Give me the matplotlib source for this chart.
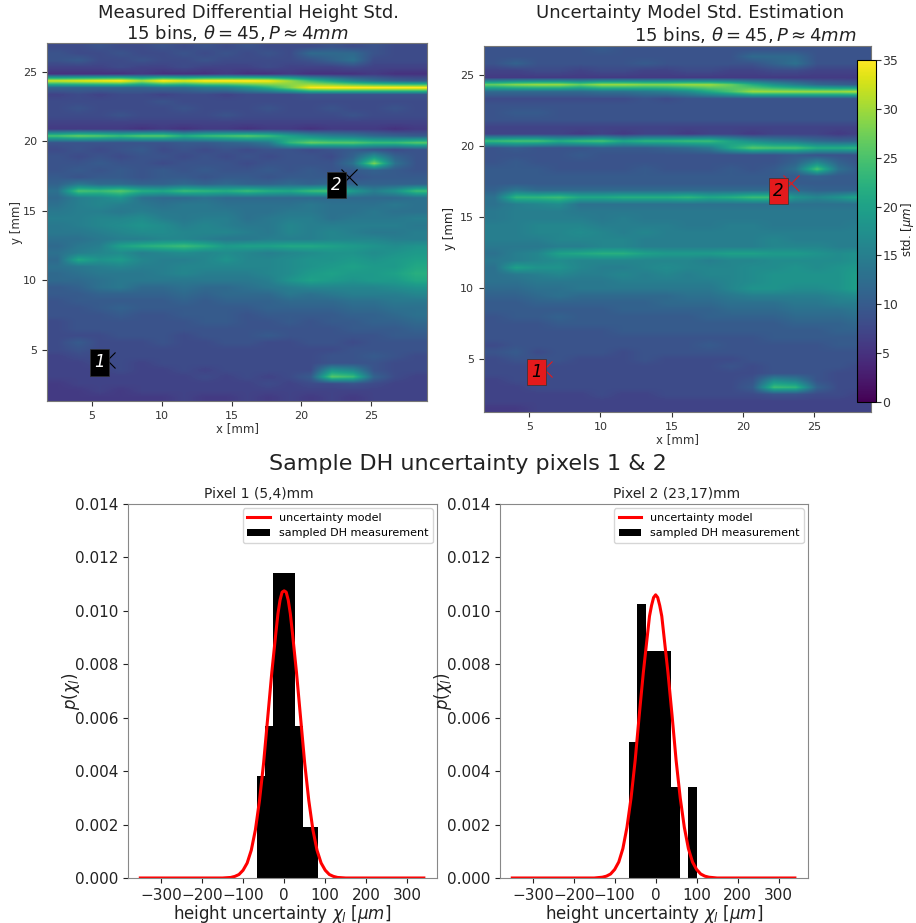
import matplotlib
matplotlib.use('Agg')
import matplotlib.pyplot as plt
import numpy as np

# Std. maps in um on a coarse grid (top row first, y=27 down to y=1.3)
measured_std = [
    [8, 8, 9, 8, 8, 9, 8, 9, 8, 9, 8, 8, 8, 9, 8, 9, 8, 8],
    [9, 8, 8, 9, 8, 8, 9, 8, 9, 8, 9, 8, 12, 12, 12, 9, 8, 8],
    [9, 10, 8, 8, 9, 8, 8, 9, 8, 8, 8, 8, 9, 11, 13, 8, 8, 8],
    [7, 7, 7, 8, 7, 7, 8, 7, 7, 7, 8, 7, 7, 7, 8, 7, 7, 7],
    [5, 5, 5, 5, 6, 5, 5, 5, 6, 5, 5, 6, 5, 5, 5, 6, 5, 5],
    [33, 34, 35, 36, 31, 36, 34, 36, 36, 36, 35, 30, 24, 20, 16, 13, 11, 10],
    [11, 11, 11, 11, 11, 12, 12, 14, 15, 18, 22, 28, 35, 36, 36, 36, 36, 36],
    [7, 8, 7, 8, 8, 7, 8, 8, 7, 8, 8, 8, 9, 9, 9, 9, 9, 9],
    [8, 8, 8, 8, 8, 9, 8, 8, 8, 8, 8, 8, 8, 8, 8, 8, 8, 8],
    [8, 9, 8, 8, 8, 8, 9, 8, 8, 8, 9, 8, 8, 9, 8, 8, 9, 8],
    [8, 8, 8, 9, 8, 8, 8, 8, 9, 8, 8, 8, 8, 8, 9, 8, 8, 8],
    [7, 7, 7, 7, 7, 7, 7, 7, 7, 7, 7, 7, 7, 7, 7, 7, 7, 7],
    [6, 6, 6, 6, 5, 6, 5, 6, 6, 5, 6, 6, 5, 6, 6, 6, 5, 6],
    [25, 27, 26, 24, 26, 26, 22, 24, 25, 26, 24, 20, 17, 15, 14, 12, 11, 10],
    [9, 9, 9, 9, 9, 9, 10, 10, 11, 12, 14, 23, 27, 26, 26, 24, 24, 26],
    [8, 9, 8, 9, 10, 8, 9, 8, 9, 8, 9, 9, 8, 9, 10, 9, 8, 9],
    [9, 8, 9, 8, 9, 9, 8, 9, 8, 9, 8, 9, 9, 8, 11, 18, 11, 9],
    [9, 9, 10, 9, 9, 8, 9, 9, 9, 8, 9, 9, 9, 9, 13, 28, 13, 9],
    [9, 10, 9, 10, 9, 10, 9, 10, 9, 9, 10, 9, 10, 9, 10, 11, 10, 9],
    [10, 9, 10, 10, 9, 10, 10, 9, 10, 10, 9, 10, 10, 10, 9, 10, 10, 10],
    [11, 14, 12, 12, 11, 11, 12, 11, 12, 11, 11, 12, 11, 12, 11, 11, 11, 11],
    [13, 25, 24, 26, 22, 21, 24, 23, 22, 24, 22, 21, 24, 25, 19, 15, 18, 24],
    [12, 15, 16, 18, 13, 12, 12, 13, 12, 12, 12, 12, 12, 12, 12, 12, 12, 13],
    [13, 15, 16, 15, 14, 13, 14, 14, 13, 13, 13, 13, 14, 13, 13, 13, 14, 13],
    [14, 15, 15, 14, 15, 14, 14, 14, 14, 13, 13, 14, 14, 13, 13, 14, 13, 13],
    [15, 15, 16, 16, 17, 15, 14, 15, 15, 13, 14, 15, 15, 13, 14, 14, 14, 15],
    [14, 15, 16, 17, 18, 17, 15, 16, 15, 14, 14, 16, 15, 15, 15, 15, 15, 14],
    [14, 14, 15, 16, 17, 17, 16, 16, 16, 15, 14, 16, 15, 16, 15, 14, 14, 15],
    [13, 13, 14, 15, 15, 16, 16, 15, 14, 14, 15, 15, 15, 16, 16, 16, 15, 15],
    [12, 14, 15, 20, 22, 23, 24, 22, 19, 20, 20, 21, 21, 20, 19, 18, 17, 18],
    [13, 15, 16, 17, 15, 16, 17, 16, 17, 16, 15, 16, 17, 18, 18, 17, 18, 19],
    [12, 21, 18, 19, 16, 15, 15, 16, 18, 16, 16, 17, 18, 18, 19, 18, 19, 20],
    [13, 14, 15, 16, 15, 15, 16, 16, 16, 16, 16, 17, 18, 19, 20, 19, 19, 21],
    [12, 13, 14, 14, 14, 15, 16, 15, 15, 15, 16, 17, 19, 20, 19, 19, 20, 22],
    [12, 12, 13, 14, 14, 14, 14, 14, 14, 14, 15, 18, 20, 19, 18, 19, 19, 21],
    [10, 11, 13, 14, 12, 12, 13, 12, 12, 13, 14, 15, 16, 16, 16, 16, 17, 18],
    [10, 10, 11, 11, 11, 11, 12, 11, 12, 12, 12, 14, 13, 14, 15, 15, 15, 16],
    [9, 10, 10, 10, 10, 10, 11, 10, 11, 11, 11, 12, 12, 12, 13, 13, 14, 14],
    [9, 9, 10, 11, 10, 10, 10, 10, 10, 10, 11, 11, 11, 11, 12, 12, 13, 13],
    [9, 9, 9, 10, 9, 9, 10, 10, 10, 9, 10, 10, 10, 10, 11, 11, 12, 13],
    [8, 9, 9, 9, 9, 9, 9, 10, 10, 9, 9, 10, 9, 10, 10, 11, 11, 12],
    [8, 9, 9, 9, 9, 9, 9, 9, 9, 9, 9, 9, 9, 9, 10, 10, 10, 11],
    [8, 8, 8, 9, 9, 9, 8, 9, 9, 9, 10, 9, 9, 9, 9, 9, 10, 10],
    [8, 10, 8, 8, 8, 9, 8, 8, 9, 9, 8, 8, 9, 9, 8, 9, 9, 9],
    [8, 9, 8, 8, 8, 8, 8, 8, 8, 8, 8, 8, 8, 8, 9, 9, 9, 9],
    [7, 8, 8, 8, 8, 8, 8, 8, 8, 8, 8, 8, 8, 9, 9, 10, 9, 8],
    [7, 7, 8, 8, 7, 8, 8, 8, 8, 8, 8, 8, 8, 9, 9, 9, 8, 8],
    [7, 7, 7, 8, 7, 7, 8, 7, 8, 8, 8, 8, 8, 18, 16, 9, 8, 8],
    [7, 7, 7, 7, 7, 7, 7, 8, 7, 8, 7, 8, 10, 26, 24, 11, 8, 7],
    [6, 7, 7, 7, 7, 7, 7, 7, 7, 7, 8, 7, 8, 8, 9, 8, 7, 7],
    [6, 6, 7, 6, 7, 7, 7, 7, 7, 7, 7, 7, 7, 7, 7, 7, 7, 7],
    [6, 6, 6, 6, 6, 6, 7, 6, 6, 7, 6, 7, 6, 7, 6, 7, 7, 7],
]
model_std = [
    [9, 9, 9, 9, 9, 10, 9, 9, 9, 9, 9, 9, 9, 9, 9, 9, 9, 9],
    [9, 9, 9, 9, 9, 9, 9, 9, 9, 9, 9, 9, 12, 12, 12, 9, 9, 9],
    [9, 11, 9, 9, 9, 9, 9, 10, 9, 9, 9, 9, 9, 11, 13, 9, 9, 9],
    [7, 7, 8, 8, 7, 8, 8, 7, 7, 8, 8, 7, 7, 8, 8, 7, 7, 7],
    [6, 6, 6, 6, 6, 6, 6, 6, 6, 6, 6, 6, 6, 6, 6, 6, 6, 6],
    [27, 29, 30, 30, 27, 30, 30, 29, 29, 30, 30, 27, 22, 18, 15, 12, 11, 10],
    [12, 12, 12, 12, 12, 13, 13, 14, 15, 17, 21, 25, 30, 30, 30, 30, 30, 31],
    [8, 8, 8, 8, 8, 8, 8, 9, 8, 9, 9, 9, 9, 9, 9, 9, 9, 9],
    [9, 9, 9, 9, 9, 9, 9, 9, 9, 9, 9, 9, 9, 9, 9, 9, 9, 9],
    [9, 10, 10, 9, 9, 9, 9, 9, 9, 9, 9, 9, 9, 9, 9, 9, 9, 9],
    [9, 9, 9, 9, 9, 9, 9, 9, 9, 9, 9, 9, 9, 9, 9, 9, 9, 9],
    [7, 7, 7, 7, 7, 7, 7, 7, 7, 7, 7, 7, 7, 7, 7, 7, 7, 7],
    [7, 7, 7, 7, 6, 7, 6, 7, 7, 6, 7, 7, 6, 7, 7, 7, 6, 7],
    [24, 25, 25, 22, 24, 25, 21, 23, 23, 24, 24, 20, 17, 15, 14, 12, 11, 11],
    [9, 10, 9, 9, 9, 10, 10, 10, 11, 12, 14, 21, 26, 25, 25, 22, 22, 23],
    [9, 9, 9, 9, 10, 9, 9, 9, 9, 9, 9, 9, 9, 9, 10, 9, 9, 9],
    [9, 10, 9, 9, 9, 9, 9, 9, 9, 9, 9, 9, 9, 9, 11, 16, 11, 9],
    [10, 10, 10, 9, 9, 9, 9, 10, 9, 9, 9, 10, 9, 10, 13, 25, 13, 10],
    [10, 10, 10, 10, 10, 10, 10, 10, 10, 10, 10, 10, 10, 10, 10, 11, 10, 10],
    [10, 10, 10, 10, 10, 10, 10, 10, 10, 10, 10, 10, 10, 10, 10, 10, 10, 10],
    [11, 14, 12, 12, 12, 12, 12, 12, 12, 12, 12, 12, 12, 12, 12, 11, 11, 11],
    [13, 23, 23, 24, 21, 21, 22, 22, 22, 23, 21, 22, 24, 24, 18, 16, 18, 21],
    [13, 15, 16, 17, 13, 13, 13, 13, 13, 13, 13, 13, 13, 13, 13, 13, 13, 13],
    [14, 15, 15, 15, 14, 14, 14, 14, 14, 14, 14, 14, 14, 14, 14, 14, 14, 14],
    [14, 15, 15, 15, 15, 14, 15, 14, 14, 14, 14, 14, 14, 14, 14, 14, 14, 14],
    [15, 15, 16, 16, 16, 15, 15, 15, 15, 14, 14, 15, 15, 14, 14, 14, 14, 15],
    [15, 15, 16, 16, 17, 16, 15, 16, 15, 15, 15, 15, 15, 15, 15, 15, 15, 15],
    [15, 15, 15, 16, 16, 16, 16, 15, 15, 15, 15, 15, 15, 16, 15, 15, 15, 15],
    [14, 14, 14, 15, 15, 16, 16, 15, 15, 15, 15, 15, 15, 16, 16, 16, 15, 15],
    [13, 15, 16, 20, 21, 22, 22, 20, 19, 19, 19, 20, 20, 19, 19, 18, 17, 18],
    [14, 15, 16, 17, 16, 16, 16, 16, 16, 16, 15, 16, 16, 17, 17, 17, 17, 18],
    [13, 20, 18, 18, 16, 15, 15, 16, 17, 16, 16, 16, 17, 17, 18, 17, 18, 19],
    [13, 14, 15, 16, 15, 15, 16, 15, 16, 15, 16, 16, 17, 18, 18, 18, 18, 20],
    [13, 13, 14, 14, 14, 14, 15, 15, 15, 15, 15, 16, 17, 18, 18, 18, 18, 20],
    [12, 12, 13, 13, 14, 14, 14, 14, 14, 14, 14, 16, 18, 18, 17, 17, 18, 20],
    [11, 11, 12, 13, 12, 12, 12, 12, 12, 13, 13, 14, 15, 15, 15, 15, 16, 17],
    [10, 10, 11, 11, 11, 11, 11, 11, 12, 12, 12, 13, 13, 13, 14, 14, 15, 15],
    [10, 10, 10, 10, 10, 10, 11, 11, 11, 11, 11, 12, 12, 12, 13, 13, 13, 14],
    [9, 10, 10, 11, 10, 10, 10, 10, 10, 10, 11, 11, 11, 11, 12, 12, 12, 13],
    [9, 9, 9, 10, 10, 10, 10, 10, 10, 10, 10, 10, 10, 10, 11, 11, 11, 12],
    [9, 9, 9, 9, 9, 9, 10, 10, 10, 10, 10, 10, 10, 10, 10, 10, 11, 11],
    [9, 9, 9, 9, 9, 9, 9, 9, 9, 9, 9, 9, 9, 10, 10, 10, 10, 10],
    [8, 9, 9, 9, 9, 9, 9, 9, 9, 9, 10, 9, 9, 9, 9, 9, 10, 10],
    [9, 10, 8, 9, 9, 9, 8, 9, 9, 9, 9, 9, 9, 9, 9, 9, 9, 9],
    [8, 9, 9, 9, 8, 8, 8, 9, 8, 8, 8, 8, 9, 9, 9, 9, 9, 9],
    [8, 8, 8, 8, 8, 8, 8, 8, 8, 8, 8, 9, 8, 9, 9, 9, 9, 8],
    [8, 8, 8, 8, 8, 8, 8, 8, 8, 8, 8, 8, 8, 9, 9, 9, 8, 8],
    [7, 8, 8, 8, 8, 8, 8, 8, 8, 8, 8, 8, 9, 17, 15, 9, 8, 8],
    [7, 7, 8, 8, 8, 8, 8, 8, 8, 8, 8, 8, 10, 24, 23, 11, 8, 8],
    [7, 7, 7, 7, 7, 8, 7, 7, 8, 8, 8, 8, 8, 9, 9, 8, 8, 7],
    [7, 7, 7, 7, 7, 7, 7, 7, 7, 7, 7, 7, 7, 7, 7, 7, 7, 7],
    [6, 6, 7, 7, 7, 7, 7, 7, 7, 7, 7, 7, 7, 7, 7, 7, 7, 7],
]

# Histograms of the sampled DH measurement
pixel1_edges = [-65, -46.5, -28, -9.5, 9, 27.5, 46, 64.5, 83]
pixel1_density = [0.0038, 0.0057, 0.0114, 0.0114, 0.0114, 0.0057, 0.0019, 0.0019]
pixel2_edges = [-66, -45, -24, -3, 17.5, 38.5, 59.5, 80, 101]
pixel2_density = [0.0051, 0.01025, 0.0085, 0.0085, 0.0085, 0.0034, 0.0, 0.0034]

# Uncertainty model curves
model_x = [-350, -200, -150, -130, -120, -110, -100, -90, -80, -70, -60, -50, -40, -30, -20, -15, -10, -5, 0,
           5, 10, 15, 20, 30, 40, 50, 60, 70, 80, 90, 100, 110, 120, 130, 150, 200, 340]
pixel1_model = [0, 0, 0, 0.00002, 0.00006, 0.00013, 0.00029, 0.00056, 0.00104, 0.0018, 0.0029, 0.0043, 0.0060,
                0.0077, 0.0092, 0.0099, 0.0104, 0.0107, 0.01075, 0.0107, 0.0104, 0.0099, 0.0092, 0.0077, 0.0060,
                0.0043, 0.0029, 0.0018, 0.00104, 0.00056, 0.00029, 0.00013, 0.00006, 0.00002, 0, 0, 0]
pixel2_model = [0, 0, 0, 0.00003, 0.00007, 0.00015, 0.00032, 0.0006, 0.0011, 0.0019, 0.0030, 0.0044, 0.0061,
                0.0077, 0.0091, 0.0098, 0.0102, 0.0105, 0.0106, 0.0105, 0.0102, 0.0098, 0.0091, 0.0077, 0.0061,
                0.0044, 0.0030, 0.0019, 0.0011, 0.0006, 0.00032, 0.00015, 0.00007, 0.00003, 0, 0, 0]

W, H = 916, 923

def ax_px(left, top, right, bottom):
    # axes position from pixel box of the picture
    return fig.add_axes([left / W, 1 - bottom / H, (right - left) / W, (bottom - top) / H])

def text_px(x, y, s, **kw):
    fig.text(x / W, 1 - y / H, s, ha='center', va='center', color='#222222', **kw)

def plot_map(ax, values, box_color, num_color, mark_color, xlim, ylim):
    img = ax.imshow(values, cmap='viridis', vmin=0, vmax=35, aspect='auto', interpolation='bilinear',
                    extent=[xlim[0], xlim[1], ylim[0], ylim[1]])
    ax.plot([6.05, 23.4], [4.3, 17.4], 'x', color=mark_color, markersize=11, markeredgewidth=0.8)
    for label, x, y in [('1', 5.5, 4.1), ('2', 22.5, 16.85)]:
        ax.text(x, y, label, color=num_color, style='italic', fontsize=12, ha='center', va='center',
                bbox=dict(boxstyle='square,pad=0.25', fc=box_color, ec='#333333', lw=0.5))
    ax.set_xticks([5, 10, 15, 20, 25])
    ax.set_yticks([5, 10, 15, 20, 25])
    ax.tick_params(labelsize=8, colors='#333333')
    ax.set_xlabel('x [mm]', fontsize=8.5, color='#333333', labelpad=1)
    ax.set_ylabel('y [mm]', fontsize=8.5, color='#333333', labelpad=0)
    for s in ax.spines.values():
        s.set_color('#777777')
    return img

def plot_hist(ax, edges, density, curve):
    edges = np.array(edges)
    ax.bar(edges[:-1], density, width=np.diff(edges), align='edge', color='black',
           label='sampled DH measurement')
    ax.plot(model_x, curve, color='red', linewidth=2.2, label='uncertainty model')
    ax.set_xlim(-380, 372)
    ax.set_ylim(0, 0.014)
    ax.set_xticks([-300, -200, -100, 0, 100, 200, 300])
    ax.set_yticks([0, 0.002, 0.004, 0.006, 0.008, 0.010, 0.012, 0.014])
    ax.set_yticklabels(['0.000', '0.002', '0.004', '0.006', '0.008', '0.010', '0.012', '0.014'])
    ax.tick_params(labelsize=11, colors='#222222')
    ax.set_xlabel(r'height uncertainty $\chi_l$ [$\mu m$]', fontsize=12, color='#222222', labelpad=0)
    ax.set_ylabel(r'$p(\chi_l)$', fontsize=12, color='#222222', labelpad=-5)
    ax.legend(loc='upper right', fontsize=8, borderaxespad=0.4)
    for s in ax.spines.values():
        s.set_color('#888888')

fig = plt.figure(figsize=(W / 100, H / 100), dpi=100)

ax1 = ax_px(47, 43, 427, 401)
plot_map(ax1, measured_std, 'black', 'white', 'black', (1.77, 29.0), (1.33, 27.06))
ax2 = ax_px(484, 46, 871, 412)
img = plot_map(ax2, model_std, '#e41a1c', 'black', '#e41a1c', (1.82, 29.0), (1.29, 27.04))
ax2.set_ylabel('')
text_px(450, 229, 'y [mm]', fontsize=8.5, rotation=90)

cax = ax_px(857, 60, 876, 402)
cb = fig.colorbar(img, cax=cax)
cb.set_ticks([0, 5, 10, 15, 20, 25, 30, 35])
cb.ax.tick_params(labelsize=9, colors='#333333', pad=1)
text_px(907, 230, r'std. [$\mu m$]', fontsize=8.5, rotation=90)

text_px(248, 13, 'Measured Differential Height Std.', fontsize=13)
text_px(237, 33, r'15 bins, $\theta = 45, P \approx 4mm$', fontsize=13)
text_px(690, 13, 'Uncertainty Model Std. Estimation', fontsize=13)
text_px(745, 35, r'15 bins, $\theta = 45, P \approx 4mm$', fontsize=13)

text_px(468, 464, 'Sample DH uncertainty pixels 1 & 2', fontsize=16)

ax3 = ax_px(128, 504, 437, 878)
plot_hist(ax3, pixel1_edges, pixel1_density, pixel1_model)
ax4 = ax_px(500, 504, 808, 878)
plot_hist(ax4, pixel2_edges, pixel2_density, pixel2_model)
text_px(259, 494, 'Pixel 1 (5,4)mm', fontsize=10)
text_px(677, 494, 'Pixel 2 (23,17)mm', fontsize=10)

fig.savefig('out.png', dpi=100)
